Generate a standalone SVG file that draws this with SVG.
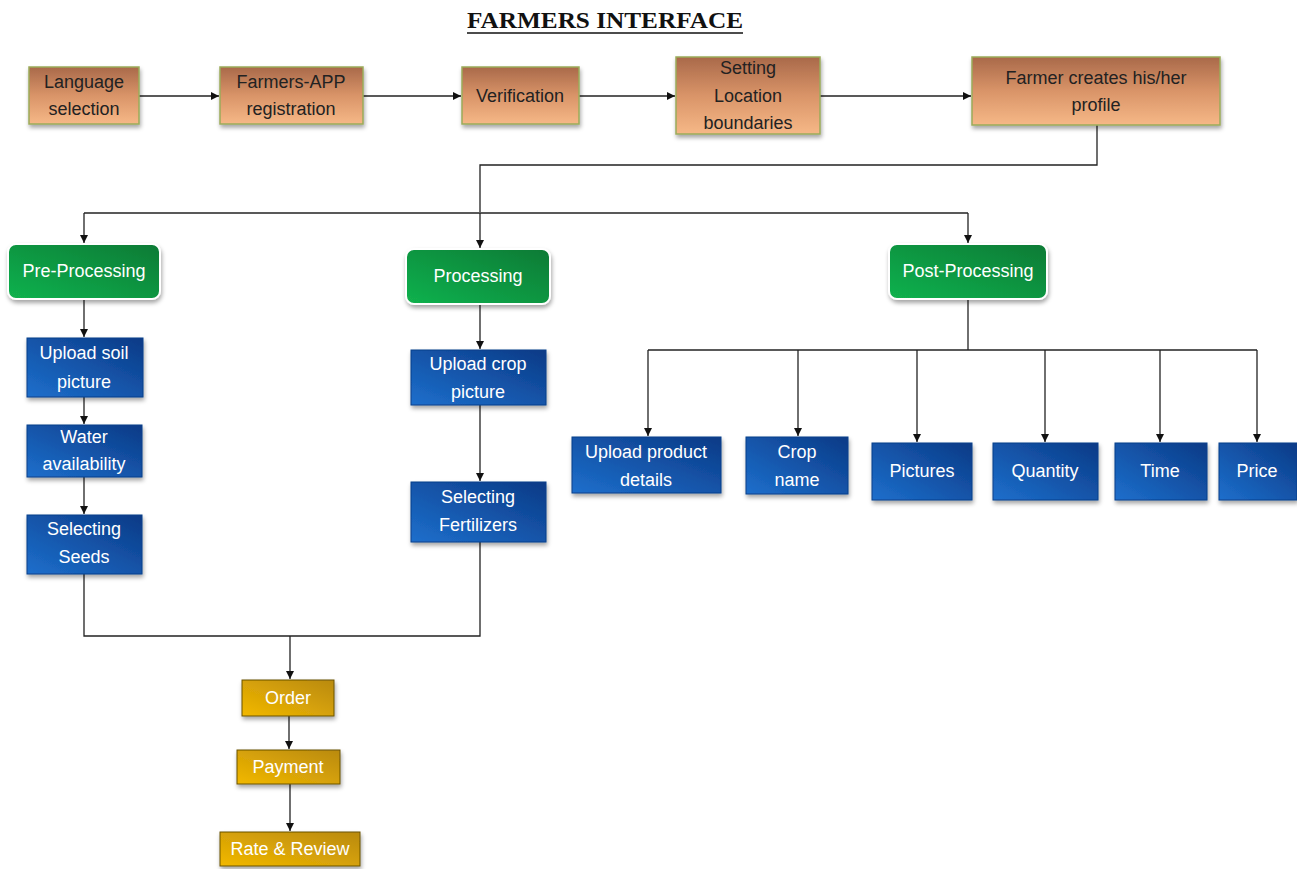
<svg xmlns="http://www.w3.org/2000/svg" width="1297" height="869" viewBox="0 0 1297 869">
<defs>
<linearGradient id="gOr" x1="0" y1="0" x2="0" y2="1"><stop offset="0" stop-color="#a9694a"/><stop offset="0.5" stop-color="#d99468"/><stop offset="1" stop-color="#f6b887"/></linearGradient>
<linearGradient id="gGr" x1="0" y1="1" x2="1" y2="0"><stop offset="0" stop-color="#12b24e"/><stop offset="1" stop-color="#087a35"/></linearGradient>
<linearGradient id="gBl" x1="0" y1="1" x2="1" y2="0"><stop offset="0" stop-color="#1d6fcc"/><stop offset="1" stop-color="#0b3a86"/></linearGradient>
<linearGradient id="gGo" x1="0" y1="1" x2="1" y2="0"><stop offset="0" stop-color="#f2b800"/><stop offset="1" stop-color="#b98a10"/></linearGradient>
<filter id="sh" x="-10%" y="-10%" width="130%" height="140%"><feDropShadow dx="1" dy="3" stdDeviation="2" flood-color="#000" flood-opacity="0.35"/></filter>
<marker id="ar" viewBox="0 0 10 10" refX="10" refY="5" markerWidth="8" markerHeight="8" orient="auto" markerUnits="userSpaceOnUse"><path d="M0,0 L10,5 L0,10 z" fill="#111"/></marker>
<style>
.or{fill:url(#gOr);stroke:#9aab5a;stroke-width:1.5;filter:url(#sh)}
.gr{fill:url(#gGr);stroke:#fff;stroke-width:2;filter:url(#sh)}
.bl{fill:url(#gBl);stroke:#0a3f8a;stroke-width:1;filter:url(#sh)}
.go{fill:url(#gGo);stroke:#6b5200;stroke-width:1;filter:url(#sh)}
.t{font-family:"Liberation Sans",Arial,sans-serif;font-size:18px;text-anchor:middle}
.dk{fill:#222}
.wh{fill:#fff}
.c{fill:none;stroke:#222;stroke-width:1.3}
.title{font-family:"Liberation Serif","Times New Roman",serif;font-size:23px;font-weight:bold;fill:#111}
</style>
</defs>
<rect width="1297" height="869" fill="#fff"/>
<text class="title" x="467" y="28" textLength="276" lengthAdjust="spacingAndGlyphs">FARMERS INTERFACE</text>
<line x1="467" y1="33" x2="743" y2="33" stroke="#111" stroke-width="1.5"/>

<g id="connectors">
<line class="c" x1="139" y1="96" x2="219" y2="96" marker-end="url(#ar)"/>
<line class="c" x1="363" y1="96" x2="461" y2="96" marker-end="url(#ar)"/>
<line class="c" x1="579" y1="96" x2="675" y2="96" marker-end="url(#ar)"/>
<line class="c" x1="820" y1="96" x2="971" y2="96" marker-end="url(#ar)"/>
<polyline class="c" points="1097,125 1097,165 480,165 480,212"/>
<line class="c" x1="84" y1="213" x2="968" y2="213"/>
<line class="c" x1="84" y1="213" x2="84" y2="243" marker-end="url(#ar)"/>
<line class="c" x1="480" y1="213" x2="480" y2="248" marker-end="url(#ar)"/>
<line class="c" x1="968" y1="213" x2="968" y2="243" marker-end="url(#ar)"/>
<line class="c" x1="84" y1="299" x2="84" y2="337" marker-end="url(#ar)"/>
<line class="c" x1="84" y1="397" x2="84" y2="424" marker-end="url(#ar)"/>
<line class="c" x1="84" y1="477" x2="84" y2="514" marker-end="url(#ar)"/>
<line class="c" x1="480" y1="304" x2="480" y2="349" marker-end="url(#ar)"/>
<line class="c" x1="480" y1="405" x2="480" y2="481" marker-end="url(#ar)"/>
<polyline class="c" points="84,574 84,636 480,636 480,542"/>
<line class="c" x1="290" y1="636" x2="290" y2="679" marker-end="url(#ar)"/>
<line class="c" x1="289" y1="716" x2="289" y2="749" marker-end="url(#ar)"/>
<line class="c" x1="290" y1="784" x2="290" y2="831" marker-end="url(#ar)"/>
<line class="c" x1="968" y1="299" x2="968" y2="350"/>
<line class="c" x1="648" y1="350" x2="1257" y2="350"/>
<line class="c" x1="648" y1="350" x2="648" y2="436" marker-end="url(#ar)"/>
<line class="c" x1="798" y1="350" x2="798" y2="436" marker-end="url(#ar)"/>
<line class="c" x1="917" y1="350" x2="917" y2="442" marker-end="url(#ar)"/>
<line class="c" x1="1045" y1="350" x2="1045" y2="442" marker-end="url(#ar)"/>
<line class="c" x1="1160" y1="350" x2="1160" y2="442" marker-end="url(#ar)"/>
<line class="c" x1="1257" y1="350" x2="1257" y2="442" marker-end="url(#ar)"/>
</g>

<g id="language"><rect class="or" x="29" y="67" width="110" height="57"/><text class="t dk" x="84" y="88">Language</text><text class="t dk" x="84" y="115">selection</text></g>
<g id="registration"><rect class="or" x="220" y="67" width="143" height="57"/><text class="t dk" x="291" y="88">Farmers-APP</text><text class="t dk" x="291" y="115">registration</text></g>
<g id="verification"><rect class="or" x="462" y="67" width="117" height="57"/><text class="t dk" x="520" y="102">Verification</text></g>
<g id="location"><rect class="or" x="676" y="57" width="144" height="77"/><text class="t dk" x="748" y="74">Setting</text><text class="t dk" x="748" y="102">Location</text><text class="t dk" x="748" y="129">boundaries</text></g>
<g id="profile"><rect class="or" x="972" y="57" width="248" height="68"/><text class="t dk" x="1096" y="84">Farmer creates his/her</text><text class="t dk" x="1096" y="111">profile</text></g>

<g id="preprocessing"><rect class="gr" x="8" y="244" width="152" height="55" rx="8"/><text class="t wh" x="84" y="277">Pre-Processing</text></g>
<g id="processing"><rect class="gr" x="406" y="249" width="144" height="55" rx="8"/><text class="t wh" x="478" y="282">Processing</text></g>
<g id="postprocessing"><rect class="gr" x="889" y="244" width="158" height="55" rx="8"/><text class="t wh" x="968" y="277">Post-Processing</text></g>

<g id="soil"><rect class="bl" x="27" y="338" width="116" height="59"/><text class="t wh" x="84" y="359">Upload soil</text><text class="t wh" x="84" y="388">picture</text></g>
<g id="water"><rect class="bl" x="27" y="425" width="115" height="52"/><text class="t wh" x="84" y="443">Water</text><text class="t wh" x="84" y="470">availability</text></g>
<g id="seeds"><rect class="bl" x="27" y="515" width="115" height="59"/><text class="t wh" x="84" y="535">Selecting</text><text class="t wh" x="84" y="563">Seeds</text></g>
<g id="cropPicture"><rect class="bl" x="411" y="350" width="135" height="55"/><text class="t wh" x="478" y="370">Upload crop</text><text class="t wh" x="478" y="398">picture</text></g>
<g id="fertilizers"><rect class="bl" x="411" y="482" width="135" height="60"/><text class="t wh" x="478" y="503">Selecting</text><text class="t wh" x="478" y="531">Fertilizers</text></g>

<g id="productDetails"><rect class="bl" x="572" y="437" width="149" height="56"/><text class="t wh" x="646" y="458">Upload product</text><text class="t wh" x="646" y="486">details</text></g>
<g id="cropName"><rect class="bl" x="746" y="437" width="102" height="57"/><text class="t wh" x="797" y="458">Crop</text><text class="t wh" x="797" y="486">name</text></g>
<g id="pictures"><rect class="bl" x="872" y="443" width="100" height="57"/><text class="t wh" x="922" y="477">Pictures</text></g>
<g id="quantity"><rect class="bl" x="993" y="443" width="105" height="57"/><text class="t wh" x="1045" y="477">Quantity</text></g>
<g id="time"><rect class="bl" x="1115" y="443" width="92" height="57"/><text class="t wh" x="1160" y="477">Time</text></g>
<g id="price"><rect class="bl" x="1219" y="443" width="78" height="57"/><text class="t wh" x="1257" y="477">Price</text></g>

<g id="order"><rect class="go" x="242" y="680" width="92" height="36"/><text class="t wh" x="288" y="704">Order</text></g>
<g id="payment"><rect class="go" x="237" y="750" width="103" height="34"/><text class="t wh" x="288" y="773">Payment</text></g>
<g id="rateReview"><rect class="go" x="220" y="832" width="140" height="34"/><text class="t wh" x="290" y="855">Rate &amp; Review</text></g>
</svg>
